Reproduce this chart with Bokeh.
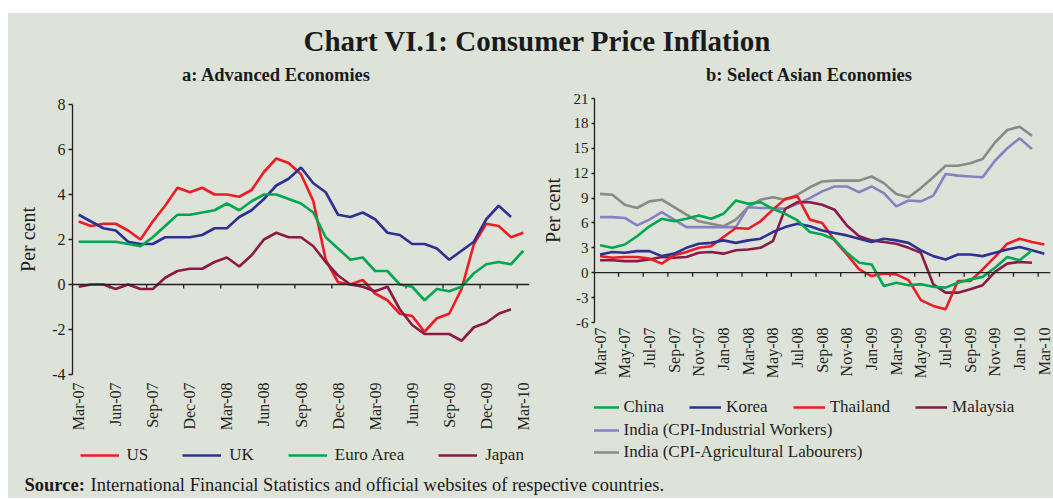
import math
from bokeh.plotting import figure
from bokeh.models import (FixedTicker, Legend, LegendItem, Label, Span, Spacer,
                          Range1d, ColumnDataSource)
from bokeh.layouts import column, row
from bokeh.embed import file_html
from bokeh.resources import INLINE

# ---------------- data ----------------
months = ["Mar-07", "Apr-07", "May-07", "Jun-07", "Jul-07", "Aug-07", "Sep-07", "Oct-07",
          "Nov-07", "Dec-07", "Jan-08", "Feb-08", "Mar-08", "Apr-08", "May-08", "Jun-08",
          "Jul-08", "Aug-08", "Sep-08", "Oct-08", "Nov-08", "Dec-08", "Jan-09", "Feb-09",
          "Mar-09", "Apr-09", "May-09", "Jun-09", "Jul-09", "Aug-09", "Sep-09", "Oct-09",
          "Nov-09", "Dec-09", "Jan-10", "Feb-10", "Mar-10"]

# Panel a: Advanced Economies
us = [2.8, 2.6, 2.7, 2.7, 2.4, 2.0, 2.8, 3.5, 4.3, 4.1, 4.3, 4.0, 4.0, 3.9, 4.2, 5.0, 5.6, 5.4,
      4.9, 3.7, 1.1, 0.1, 0.0, 0.2, -0.4, -0.7, -1.3, -1.4, -2.1, -1.5, -1.3, -0.2, 1.8, 2.7,
      2.6, 2.1, 2.3]
uk = [3.1, 2.8, 2.5, 2.4, 1.9, 1.8, 1.8, 2.1, 2.1, 2.1, 2.2, 2.5, 2.5, 3.0, 3.3, 3.8, 4.4, 4.7,
      5.2, 4.5, 4.1, 3.1, 3.0, 3.2, 2.9, 2.3, 2.2, 1.8, 1.8, 1.6, 1.1, 1.5, 1.9, 2.9, 3.5, 3.0]
euro = [1.9, 1.9, 1.9, 1.9, 1.8, 1.7, 2.1, 2.6, 3.1, 3.1, 3.2, 3.3, 3.6, 3.3, 3.7, 4.0, 4.0, 3.8,
        3.6, 3.2, 2.1, 1.6, 1.1, 1.2, 0.6, 0.6, 0.0, -0.1, -0.7, -0.2, -0.3, -0.1, 0.5, 0.9,
        1.0, 0.9, 1.5]
japan = [-0.1, 0.0, 0.0, -0.2, 0.0, -0.2, -0.2, 0.3, 0.6, 0.7, 0.7, 1.0, 1.2, 0.8, 1.3, 2.0, 2.3,
         2.1, 2.1, 1.7, 1.0, 0.4, 0.0, -0.1, -0.3, -0.1, -1.1, -1.8, -2.2, -2.2, -2.2, -2.5,
         -1.9, -1.7, -1.3, -1.1]

# Panel b: Select Asian Economies
china = [3.3, 3.0, 3.4, 4.4, 5.6, 6.5, 6.2, 6.5, 6.9, 6.5, 7.1, 8.7, 8.3, 8.5, 7.7, 7.1, 6.3, 4.9,
         4.6, 4.0, 2.4, 1.2, 1.0, -1.6, -1.2, -1.5, -1.4, -1.7, -1.8, -1.2, -0.8, -0.5, 0.6, 1.9,
         1.5, 2.7]
korea = [2.2, 2.5, 2.4, 2.6, 2.6, 2.0, 2.3, 3.0, 3.5, 3.6, 3.9, 3.6, 3.9, 4.1, 4.9, 5.5, 5.9, 5.6,
         5.1, 4.8, 4.5, 4.1, 3.7, 4.1, 3.9, 3.6, 2.7, 2.0, 1.6, 2.2, 2.2, 2.0, 2.4, 2.8, 3.1, 2.7,
         2.3]
thailand = [2.0, 1.8, 1.9, 1.9, 1.7, 1.1, 2.1, 2.5, 3.0, 3.2, 4.3, 5.4, 5.3, 6.2, 7.6, 8.9, 9.2,
            6.4, 6.0, 3.9, 2.2, 0.4, -0.4, -0.1, -0.2, -0.9, -3.3, -4.0, -4.4, -1.0, -1.0, 0.4,
            1.9, 3.5, 4.1, 3.7, 3.4]
malaysia = [1.5, 1.5, 1.4, 1.4, 1.6, 1.9, 1.8, 1.9, 2.4, 2.5, 2.3, 2.7, 2.8, 3.0, 3.8, 7.7, 8.5,
            8.5, 8.2, 7.6, 5.7, 4.4, 3.9, 3.7, 3.5, 3.0, 2.4, -1.4, -2.4, -2.4, -2.0, -1.5, 0.1,
            1.1, 1.3, 1.2]
india_iw = [6.7, 6.7, 6.6, 5.7, 6.4, 7.3, 6.4, 5.5, 5.5, 5.5, 5.5, 5.5, 7.9, 7.8, 7.8, 7.7, 8.3,
            9.0, 9.8, 10.4, 10.4, 9.7, 10.4, 9.6, 8.0, 8.7, 8.6, 9.3, 11.9, 11.7, 11.6, 11.5,
            13.5, 15.0, 16.2, 14.9]
india_al = [9.5, 9.4, 8.2, 7.8, 8.6, 8.8, 7.9, 7.0, 6.2, 5.9, 5.6, 6.4, 7.9, 8.8, 9.1, 8.8, 9.4,
            10.3, 11.0, 11.1, 11.1, 11.1, 11.6, 10.8, 9.5, 9.1, 10.2, 11.5, 12.9, 12.9, 13.2,
            13.7, 15.7, 17.2, 17.6, 16.5]

a_ticks = [-4, -2, 0, 2, 4, 6, 8]
b_ticks = [-6, -3, 0, 3, 6, 9, 12, 15, 18, 21]

# ---------------- styling ----------------
BG = "#dee3da"
AX = "#231f20"
TXT = "#1a1a1a"
FONT = "Liberation Serif"
C_RED = "#ed1c24"
C_BLUE = "#2e3192"
C_GREEN = "#00a651"
C_MAROON = "#8b1a46"
C_LAV = "#8781c2"
C_GRAY = "#8a8a8a"
LW = 2.6


def style_fig(p):
    p.grid.visible = False
    p.outline_line_color = None
    p.background_fill_color = BG
    p.border_fill_color = BG


def setup_panel(p, yticks, ytick_size, label_step, tick_offset, label_standoff, xlab_size,
                ytick_out, ylabel_standoff, px_per_unit):
    ya = p.yaxis[0]
    ya.ticker = FixedTicker(ticks=yticks)
    ya.major_label_overrides = {t: str(t) for t in yticks}
    ya.axis_line_color = AX
    ya.axis_line_width = 1.3
    ya.major_tick_line_color = AX
    ya.major_tick_line_width = 1.3
    ya.major_tick_out = ytick_out
    ya.major_tick_in = 0
    ya.minor_tick_line_color = None
    ya.major_label_text_font = FONT
    ya.major_label_text_font_size = ytick_size
    ya.major_label_text_color = AX
    ya.major_label_standoff = 3
    ya.axis_label = "Per cent"
    ya.axis_label_text_font = FONT
    ya.axis_label_text_font_size = "20px"
    ya.axis_label_text_font_style = "normal"
    ya.axis_label_text_color = AX
    ya.axis_label_standoff = ylabel_standoff

    n = len(months)
    lab_pos = list(range(0, n, label_step))
    xa = p.xaxis[0]
    xa.ticker = FixedTicker(ticks=lab_pos)
    xa.major_label_overrides = {i: months[i] for i in lab_pos}
    xa.major_label_orientation = math.pi / 2
    xa.axis_line_color = None
    xa.major_tick_line_color = None
    xa.minor_tick_line_color = None
    xa.major_tick_out = 0
    xa.major_tick_in = 0
    xa.major_label_standoff = label_standoff
    xa.major_label_text_font = FONT
    xa.major_label_text_font_size = xlab_size
    xa.major_label_text_color = AX

    # zero line with tick marks between category groups
    p.add_layout(Span(location=0, dimension="width", line_color=AX, line_width=1.3))
    tick_pos = [t + 0.5 for t in range(tick_offset, n - 1, label_step)]
    tl = 4.0 / px_per_unit
    p.segment(x0=tick_pos, y0=[0] * len(tick_pos), x1=tick_pos, y1=[-tl] * len(tick_pos),
              line_color=AX, line_width=1.3)


def pad(v):
    return v + [float("nan")] * (len(months) - len(v))


def blank_fig(w, h):
    f = figure(width=w, height=h, x_range=Range1d(0, w), y_range=Range1d(0, h),
               output_backend="svg", toolbar_location=None, min_border=0,
               x_axis_location=None, y_axis_location=None)
    style_fig(f)
    return f


def legend_box(f, entries, loc, spacing, glyph_width, standoff):
    # legend swatches only: each renderer holds a single undefined point, so nothing is plotted
    items = []
    for name, color in entries:
        r = f.line(x=[float("nan")], y=[float("nan")], line_color=color, line_width=LW)
        items.append(LegendItem(label=name, renderers=[r]))
    f.add_layout(Legend(items=items, orientation="horizontal", location=loc, margin=0,
                        padding=0, spacing=spacing, glyph_width=glyph_width, glyph_height=20,
                        label_height=20, label_standoff=standoff, label_text_font=FONT,
                        label_text_font_size="17px", label_text_color=AX,
                        background_fill_alpha=0, border_line_color=None))


idx = list(range(len(months)))

# ---------------- title strip (title + panel subtitles) ----------------
pt = blank_fig(1045, 72)
pt.add_layout(Label(x=529, y=45, text="Chart VI.1: Consumer Price Inflation",
                    text_align="center", text_baseline="middle", text_font=FONT,
                    text_font_size="29px", text_font_style="bold", text_color=TXT))
pt.add_layout(Label(x=268, y=11, text="a: Advanced Economies", text_align="center",
                    text_baseline="middle", text_font=FONT, text_font_size="18.5px",
                    text_font_style="bold", text_color=TXT))
pt.add_layout(Label(x=801, y=11, text="b: Select Asian Economies", text_align="center",
                    text_baseline="middle", text_font=FONT, text_font_size="18.5px",
                    text_font_style="bold", text_color=TXT))

# ---------------- panel a ----------------
pa = figure(width=527, height=349, x_range=Range1d(-0.5, 36.5), y_range=Range1d(-4, 8),
            output_backend="svg", toolbar_location=None,
            min_border_left=64, min_border_right=6, min_border_top=19, min_border_bottom=60)
style_fig(pa)
setup_panel(pa, a_ticks, "16px", 3, 2, 8, "16px", 4, 10, 22.5)

src_a = ColumnDataSource(dict(x=idx, us=pad(us), uk=pad(uk), euro=pad(euro), japan=pad(japan)))
for col, c in [("us", C_RED), ("uk", C_BLUE), ("euro", C_GREEN), ("japan", C_MAROON)]:
    pa.line("x", col, source=src_a, line_color=c, line_width=LW)

la = blank_fig(527, 36)
legend_box(la, [("US", C_RED), ("UK", C_BLUE), ("Euro Area", C_GREEN), ("Japan", C_MAROON)],
           (7.5, 5), 34, 39, 8)

# ---------------- panel b ----------------
pb = figure(width=518, height=296, x_range=Range1d(-0.45, 36.5), y_range=Range1d(-6, 21),
            output_backend="svg", toolbar_location=None,
            min_border_left=59, min_border_right=3, min_border_top=13, min_border_bottom=58)
style_fig(pb)
setup_panel(pb, b_ticks, "15px", 2, 1, 5, "16px", 3, 7, 8.333)

src_b = ColumnDataSource(dict(x=idx, china=pad(china), korea=pad(korea),
                              thailand=pad(thailand), malaysia=pad(malaysia),
                              iw=pad(india_iw), al=pad(india_al)))
for col, c in [("al", C_GRAY), ("iw", C_LAV), ("malaysia", C_MAROON), ("thailand", C_RED),
               ("korea", C_BLUE), ("china", C_GREEN)]:
    pb.line("x", col, source=src_b, line_color=c, line_width=LW)

lb = blank_fig(518, 89)
legend_box(lb, [("China", C_GREEN), ("Korea", C_BLUE), ("Thailand", C_RED),
                ("Malaysia", C_MAROON)], (-7.5, 53), 25, 32, 5)
legend_box(lb, [("India (CPI-Industrial Workers)", C_LAV)], (-7.5, 30.5), 25, 32, 5)
legend_box(lb, [("India (CPI-Agricultural Labourers)", C_GRAY)], (-7.5, 8), 25, 32, 5)

# ---------------- source ----------------
ps = blank_fig(1045, 28)
ps.add_layout(Label(x=16, y=13.5, text="Source:", text_align="left", text_baseline="middle",
                    text_font=FONT, text_font_size="18.5px", text_font_style="bold",
                    text_color=TXT))
ps.add_layout(Label(x=82, y=13.5,
                    text="International Financial Statistics and official websites of respective countries.",
                    text_align="left", text_baseline="middle", text_font=FONT,
                    text_font_size="18.5px", text_color=TXT))

inner = column(pt, row(column(pa, la), column(pb, lb), styles={"background-color": BG}), ps,
               styles={"background-color": BG})
layout = column(Spacer(height=13, width=1053), row(Spacer(width=8, height=485), inner))
open("out.html", "w").write(file_html(layout, INLINE))
